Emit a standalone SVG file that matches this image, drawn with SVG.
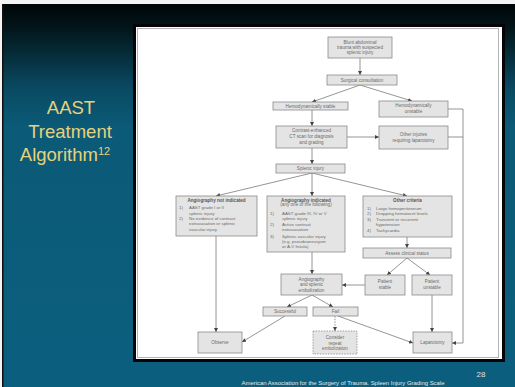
<svg xmlns="http://www.w3.org/2000/svg" width="515" height="387" viewBox="0 0 515 387">
<defs>
<linearGradient id="bg" x1="0" y1="0" x2="0" y2="1">
<stop offset="0" stop-color="#000508"/>
<stop offset="0.06" stop-color="#021519"/>
<stop offset="0.22" stop-color="#0a4a62"/>
<stop offset="0.32" stop-color="#0b5a77"/>
<stop offset="1" stop-color="#0b5f7e"/>
</linearGradient>
<marker id="ah" markerUnits="userSpaceOnUse" markerWidth="5" markerHeight="5" refX="4" refY="2" orient="auto">
<path d="M0,0 L4,2 L0,4 Z" fill="#444"/>
</marker>
<style>
.box{fill:#e4e4e4;stroke:#8a8a8a;stroke-width:0.8}
.t{font-family:"Liberation Sans",Arial,sans-serif;font-size:4.6px;fill:#6a6a6a;text-anchor:middle}
.l{font-family:"Liberation Sans",Arial,sans-serif;font-size:4.4px;fill:#6a6a6a}
.b{font-weight:bold;fill:#555}
.c{fill:none;stroke:#7a7a7a;stroke-width:0.8}
.title{font-family:"Liberation Sans",Arial,sans-serif;font-size:18.5px;fill:#e6d27c;text-anchor:middle}
</style>
</defs>
<rect x="0" y="0" width="515" height="387" fill="#f4f4f4"/>
<rect x="2" y="4" width="513" height="383" fill="url(#bg)"/>
<rect x="2" y="4" width="1.5" height="383" fill="#111"/>

<g id="title">
<text class="title" x="71" y="114">AAST</text>
<text class="title" x="70" y="138">Treatment</text>
<text class="title" x="65" y="161">Algorithm<tspan font-size="11" dy="-6.5">12</tspan></text>
</g>

<g id="panel">
<rect x="133" y="24" width="372" height="338" fill="#050505"/>
<rect x="136" y="27" width="366" height="332" fill="#ffffff"/>
<rect x="137.5" y="28.5" width="361" height="329" fill="none" stroke="#b4b4b4" stroke-width="1"/>
</g>

<g id="connectors">
<line class="c" x1="360" y1="58" x2="360" y2="75" marker-end="url(#ah)"/>
<line class="c" x1="360" y1="85" x2="312" y2="102" marker-end="url(#ah)"/>
<line class="c" x1="360" y1="85" x2="412" y2="101" marker-end="url(#ah)"/>
<line class="c" x1="312" y1="110" x2="312" y2="126" marker-end="url(#ah)"/>
<line class="c" x1="347" y1="137" x2="379" y2="137" marker-end="url(#ah)"/>
<polyline class="c" points="448,109 463,109 463,343 452,343" marker-end="url(#ah)"/>
<line class="c" x1="448" y1="137" x2="463" y2="137"/>
<line class="c" x1="312" y1="148" x2="312" y2="164" marker-end="url(#ah)"/>
<line class="c" x1="312" y1="173" x2="216" y2="196" marker-end="url(#ah)"/>
<line class="c" x1="312" y1="173" x2="312" y2="196" marker-end="url(#ah)"/>
<line class="c" x1="312" y1="173" x2="407" y2="196" marker-end="url(#ah)"/>
<line class="c" x1="216" y1="236" x2="216" y2="332" marker-end="url(#ah)"/>
<line class="c" x1="312" y1="252" x2="312" y2="274" marker-end="url(#ah)"/>
<line class="c" x1="407" y1="237" x2="407" y2="248" marker-end="url(#ah)"/>
<line class="c" x1="407" y1="258" x2="387" y2="275" marker-end="url(#ah)"/>
<line class="c" x1="407" y1="258" x2="430" y2="275" marker-end="url(#ah)"/>
<line class="c" x1="365" y1="285" x2="342" y2="285" marker-end="url(#ah)"/>
<line class="c" x1="312" y1="295" x2="287" y2="307" marker-end="url(#ah)"/>
<line class="c" x1="312" y1="295" x2="333" y2="307" marker-end="url(#ah)"/>
<line class="c" x1="285" y1="316" x2="242" y2="342" marker-end="url(#ah)"/>
<line class="c" x1="335" y1="316" x2="335" y2="331" stroke-dasharray="1.5,1.2" marker-end="url(#ah)"/>
<line class="c" x1="338" y1="316" x2="413" y2="343" marker-end="url(#ah)"/>
<line class="c" x1="432" y1="295" x2="432" y2="332" marker-end="url(#ah)"/>
</g>

<g id="blunt">
<rect class="box" x="328" y="37" width="64" height="21"/>
<text class="t" x="360" y="43.5">Blunt abdominal</text>
<text class="t" x="360" y="48.5">trauma with suspected</text>
<text class="t" x="360" y="53.5">splenic injury</text>
</g>
<g id="surgical">
<rect class="box" x="327" y="75" width="70" height="10"/>
<text class="t" x="362" y="81.5">Surgical consultation</text>
</g>
<g id="stable">
<rect class="box" x="273" y="102" width="75" height="8"/>
<text class="t" x="310.5" y="107.6">Hemodynamically stable</text>
</g>
<g id="unstable">
<rect class="box" x="379" y="101" width="69" height="16"/>
<text class="t" x="413.5" y="107">Hemodynamically</text>
<text class="t" x="413.5" y="112.5">unstable</text>
</g>
<g id="ct">
<rect class="box" x="276" y="126" width="71" height="22"/>
<text class="t" x="311.5" y="131.8">Contrast-enhanced</text>
<text class="t" x="311.5" y="137.8">CT scan for diagnosis</text>
<text class="t" x="311.5" y="143.8">and grading</text>
</g>
<g id="other-injuries">
<rect class="box" x="379" y="126" width="69" height="23"/>
<text class="t" x="413.5" y="135.5">Other injuries</text>
<text class="t" x="413.5" y="141.5">requiring laparotomy</text>
</g>
<g id="splenic">
<rect class="box" x="276" y="164" width="69" height="9"/>
<text class="t" x="310.5" y="170">Splenic injury</text>
</g>
<g id="not-indicated">
<rect class="box" x="176" y="196" width="81" height="40"/>
<text class="t b" x="216.5" y="201.5">Angiography not indicated</text>
<text class="l" x="179" y="209.3">1)</text><text class="l" x="189" y="209.3">AAST grade I or II</text>
<text class="l" x="189" y="214.6">splenic injury</text>
<text class="l" x="179" y="219.9">2)</text><text class="l" x="189" y="219.9">No evidence of contrast</text>
<text class="l" x="189" y="225.2">extravasation or splenic</text>
<text class="l" x="189" y="230.5">vascular injury</text>
</g>
<g id="indicated">
<rect class="box" x="267" y="196" width="78" height="56"/>
<text class="t b" x="306" y="201.5">Angiography indicated</text>
<text class="t" x="306" y="206.3">(any one of the following)</text>
<text class="l" x="270" y="215">1)</text><text class="l" x="282" y="215">AAST grade III, IV or V</text>
<text class="l" x="282" y="220">splenic injury</text>
<text class="l" x="270" y="226">2)</text><text class="l" x="282" y="226">Active contrast</text>
<text class="l" x="282" y="231">extravasation</text>
<text class="l" x="270" y="237.5">3)</text><text class="l" x="282" y="237.5">Splenic vascular injury</text>
<text class="l" x="282" y="242.5">(e.g. pseudoaneurysm</text>
<text class="l" x="282" y="247.5">or A-V fistula)</text>
</g>
<g id="other-criteria">
<rect class="box" x="363" y="196" width="89" height="41"/>
<text class="t b" x="407.5" y="201.5">Other criteria</text>
<text class="l" x="367" y="209.5">1)</text><text class="l" x="376" y="209.5">Large hemoperitoneum</text>
<text class="l" x="367" y="215">2)</text><text class="l" x="376" y="215">Dropping hematocrit levels</text>
<text class="l" x="367" y="220.5">3)</text><text class="l" x="376" y="220.5">Transient or recurrent</text>
<text class="l" x="376" y="226">hypotension</text>
<text class="l" x="367" y="232">4)</text><text class="l" x="376" y="232">Tachycardia</text>
</g>
<g id="assess">
<rect class="box" x="363" y="248" width="88" height="10"/>
<text class="t" x="407" y="254.8">Assess clinical status</text>
</g>
<g id="angio-embo">
<rect class="box" x="281" y="274" width="61" height="21"/>
<text class="t" x="311.5" y="280.5">Angiography</text>
<text class="t" x="311.5" y="286">and splenic</text>
<text class="t" x="311.5" y="291.5">embolization</text>
</g>
<g id="patient-stable">
<rect class="box" x="365" y="275" width="40" height="20"/>
<text class="t" x="385" y="283">Patient</text>
<text class="t" x="385" y="288.5">stable</text>
</g>
<g id="patient-unstable">
<rect class="box" x="412" y="275" width="40" height="20"/>
<text class="t" x="432" y="283">Patient</text>
<text class="t" x="432" y="288.5">unstable</text>
</g>
<g id="successful">
<rect class="box" x="263" y="307" width="44" height="9"/>
<text class="t" x="285" y="313">Successful</text>
</g>
<g id="fail">
<rect class="box" x="313" y="307" width="45" height="9"/>
<text class="t" x="335.5" y="313">Fail</text>
</g>
<g id="observe">
<rect class="box" x="198" y="332" width="44" height="21"/>
<text class="t" x="220" y="344">Observe</text>
</g>
<g id="consider">
<rect class="box" x="313" y="331" width="44" height="23" stroke-dasharray="1.5,1.2"/>
<text class="t" x="335" y="339">Consider</text>
<text class="t" x="335" y="344.5">repeat</text>
<text class="t" x="335" y="350">embolization</text>
</g>
<g id="laparotomy">
<rect class="box" x="413" y="332" width="39" height="21"/>
<text class="t" x="432.5" y="344">Laparotomy</text>
</g>

<g id="footer">
<text x="481" y="377" font-family="Liberation Sans,Arial,sans-serif" font-size="8" fill="#e0e0e0" text-anchor="middle">28</text>
<text x="343" y="385" font-family="Liberation Sans,Arial,sans-serif" font-size="5.5" fill="#e8e8e8" text-anchor="middle" textLength="203" lengthAdjust="spacingAndGlyphs">American Association for the Surgery of Trauma. Spleen Injury Grading Scale</text>
</g>
</svg>
